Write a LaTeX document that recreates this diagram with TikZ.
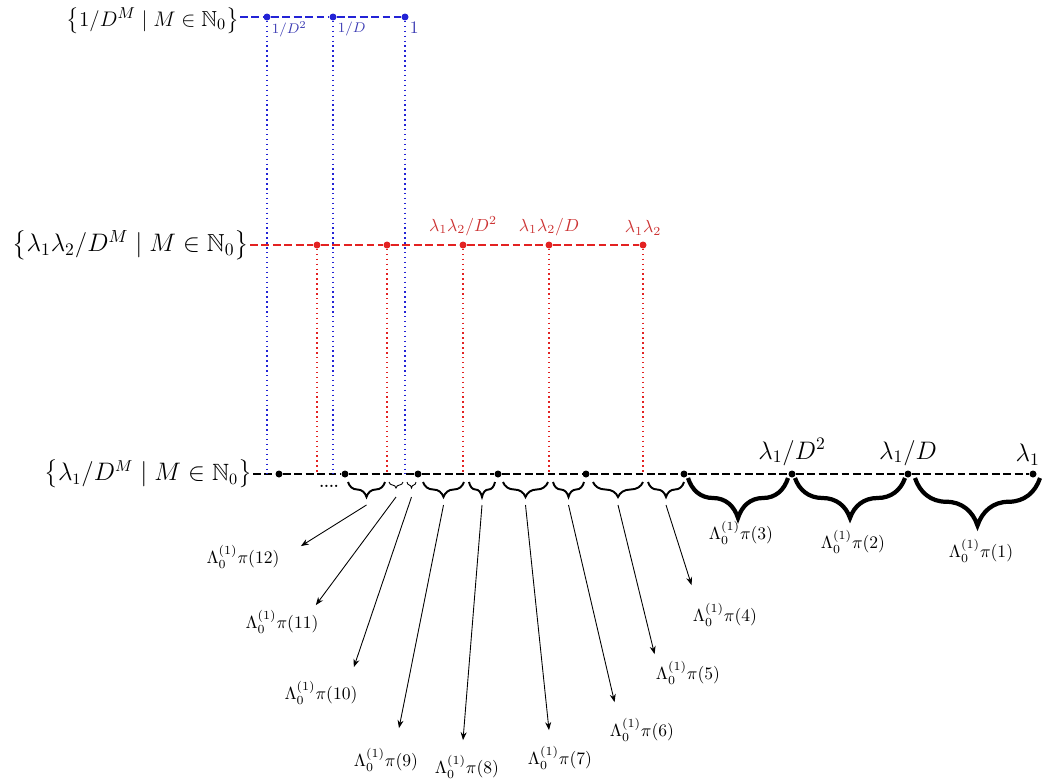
\documentclass[tikz,border=0pt]{standalone}
\usepackage{amsmath,amssymb}
\usepackage{xcolor}
\definecolor{cBlue}{HTML}{2323D6}
\definecolor{cRed}{HTML}{E32222}
\definecolor{cBlueTxt}{HTML}{3B3BB3}
\definecolor{cRedTxt}{HTML}{CC3333}
\usepackage{tikz}
\usetikzlibrary{positioning,arrows.meta,calc,decorations.pathreplacing}
\tikzset{
  set-label/.style={anchor=east,inner sep=0.5pt,font=\fontsize{#1}{17}\selectfont},
  pt-black/.style={circle,fill=black,inner sep=0pt,minimum size=1.4mm},
  pt-red/.style={pt-black,fill=cRed},
  pt-blue/.style={pt-black,fill=cBlue},
  axis-black/.style={line width=1pt,dash pattern=on 4.5pt off 2pt},
  axis-red/.style={axis-black,draw=cRed},
  axis-blue/.style={axis-black,draw=cBlue},
  drop-red/.style={line width=0.8pt,dotted,draw=cRed},
  drop-blue/.style={line width=0.8pt,dotted,draw=cBlue},
  lbl-red/.style={text=cRedTxt,inner sep=1pt},
  lbl-blue/.style={text=cBlueTxt,inner sep=1pt,font=\footnotesize},
  lbl-black/.style={inner sep=1.5pt,font=\fontsize{14.5}{17}\selectfont},
  piece/.style={inner sep=2pt},
  brace-big/.style={decorate,decoration={brace,mirror,amplitude=#1},line width=2.4pt},
  brace-mid/.style={decorate,decoration={brace,mirror,amplitude=0.3cm},line width=1.1pt},
  brace-small/.style={decorate,decoration={brace,mirror,amplitude=0.12cm},line width=0.5pt},
  arrow/.style={-{Stealth[length=1.6mm,width=1.2mm]},line width=0.5pt},
}
\begin{document}
\begin{tikzpicture}[x=0.02cm,y=-0.02cm]
  \useasboundingbox (0,0) rectangle (1043,781);
  % the three sets
  \node[set-label=12.4] (sB) at (240,21)  {$\big\{1/D^M \mid M\in\mathbb{N}_0\big\}$};
  \node[set-label=14]   (sR) at (250,245) {$\big\{\lambda_1\lambda_2/D^M \mid M\in\mathbb{N}_0\big\}$};
  \node[set-label=13.4] (sK) at (253,474) {$\big\{\lambda_1/D^M \mid M\in\mathbb{N}_0\big\}$};

  \node[pt-blue] (n2) at (267,17) {};
  \node[pt-blue] (n1) at (333,17) {};
  \node[pt-blue] (n0) at (405,17) {};

  \node[pt-red] (m4) at (317,245) {};
  \node[pt-red] (m3) at (387,245) {};
  \node[pt-red] (m2) at (463,245) {};
  \node[pt-red] (m1) at (549,245) {};
  \node[pt-red] (m0) at (643,245) {};

  \node[pt-black] (l8) at (279,474) {};
  \node[pt-black] (l7) at (345,474) {};
  \node[pt-black] (l6) at (418,474) {};
  \node[pt-black] (l5) at (498,474) {};
  \node[pt-black] (l4) at (586,474) {};
  \node[pt-black] (l3) at (684,474) {};
  \node[pt-black] (l2) at (792,474) {};
  \node[pt-black] (l1) at (908,474) {};
  \node[pt-black] (l0) at (1033,474) {};

  \foreach \p in {n0,n1,n2,m0,m1,m2,m3,m4}
    \coordinate (\p f) at (\p |- l0);

  \draw[axis-blue]  (sB.east |- n2) -- (n2) -- (n1) -- (n0);
  \draw[axis-red]   (sR) -- (m4) -- (m3) -- (m2) -- (m1) -- (m0);
  \draw[axis-black] (sK) -- (l8) -- (l7) -- (l6) -- (l5) -- (l4) -- (l3) -- (l2) -- (l1) -- (l0);

  \draw[drop-blue] (n2) -- (n2f);
  \draw[drop-blue] (n1) -- (n1f);
  \draw[drop-blue] (n0) -- (n0f);
  \draw[drop-red] (m4) -- (m4f);
  \draw[drop-red] (m3) -- (m3f);
  \draw[drop-red] (m2) -- (m2f);
  \draw[drop-red] (m1) -- (m1f);
  \draw[drop-red] (m0) -- (m0f);

  % point labels
  \node[lbl-blue,below right=0pt and 0pt of n2] (bn2) {$1/D^2$};
  \node[lbl-blue,below right=0pt and 0pt of n1] (bn1) {$1/D$};
  \node[lbl-blue,font=\normalsize,below right=0pt and 0pt of n0] (bn0) {$1$};
  \node[lbl-red,above=2pt of m2] (rm2) {$\lambda_1\lambda_2/D^2$};
  \node[lbl-red,above=2pt of m1] (rm1) {$\lambda_1\lambda_2/D$};
  \node[lbl-red,above=2pt of m0] (rm0) {$\lambda_1\lambda_2$};
  \node[lbl-black,above=1pt of l2] (kl2) {$\lambda_1/D^2$};
  \node[lbl-black,above=1pt of l1] (kl1) {$\lambda_1/D$};
  \node[lbl-black,above=1pt of l0,xshift=-3pt] (kl0) {$\lambda_1$};
  \node[font=\footnotesize\bfseries,inner sep=0pt] (gap) at (329,486) {....};

  % pieces
  \draw[brace-big=0.95cm] ($(l1)+(7,4)$) -- ($(l0)+(7,4)$);
  \draw[brace-big=0.8cm]  ($(l2)+(3,4)$) -- ($(l1)+(-3,4)$);
  \draw[brace-big=0.8cm]  ($(l3)+(4,4)$) -- ($(l2)+(-4,4)$);
  \draw[brace-mid]   ($(m0f)+(5,8)$) -- ($(l3)+(0,8)$)   coordinate[midway,yshift=-4.6mm] (t4);
  \draw[brace-mid]   ($(l4)+(7,8)$)  -- ($(m0f)+(0,8)$)  coordinate[midway,yshift=-4.6mm] (t5);
  \draw[brace-mid]   ($(m1f)+(4,8)$) -- ($(l4)+(-2,8)$)  coordinate[midway,yshift=-4.6mm] (t6);
  \draw[brace-mid]   ($(l5)+(5,8)$)  -- ($(m1f)+(-1,8)$) coordinate[midway,yshift=-4.6mm] (t7);
  \draw[brace-mid]   ($(m2f)+(6,8)$) -- ($(l5)+(-3,8)$)  coordinate[midway,yshift=-4.6mm] (t8);
  \draw[brace-mid]   ($(l6)+(5,8)$)  -- ($(m2f)+(1,8)$)  coordinate[midway,yshift=-4.6mm] (t9);
  \draw[brace-small] ($(n0f)+(2,8)$) -- ($(l6)+(-2,8)$)  coordinate[midway,yshift=-3mm] (t10);
  \draw[brace-small] ($(m3f)+(2,8)$) -- ($(n0f)+(-2,8)$) coordinate[midway,yshift=-3mm] (t11);
  \draw[brace-mid]   ($(l7)+(3,8)$)  -- ($(m3f)+(-2,8)$) coordinate[midway,yshift=-4.6mm] (t12);

  \node[piece] (pi1)  at (981,551) {$\Lambda_0^{(1)}\pi(1)$};
  \node[piece] (pi2)  at (853,542) {$\Lambda_0^{(1)}\pi(2)$};
  \node[piece] (pi3)  at (741,533) {$\Lambda_0^{(1)}\pi(3)$};
  \node[piece] (pi4)  at (725,615) {$\Lambda_0^{(1)}\pi(4)$};
  \node[piece] (pi5)  at (688,673) {$\Lambda_0^{(1)}\pi(5)$};
  \node[piece] (pi6)  at (642,730) {$\Lambda_0^{(1)}\pi(6)$};
  \node[piece] (pi7)  at (560,758) {$\Lambda_0^{(1)}\pi(7)$};
  \node[piece] (pi8)  at (467,767) {$\Lambda_0^{(1)}\pi(8)$};
  \node[piece] (pi9)  at (386,760) {$\Lambda_0^{(1)}\pi(9)$};
  \node[piece] (pi10) at (321,693) {$\Lambda_0^{(1)}\pi(10)$};
  \node[piece] (pi11) at (282,622) {$\Lambda_0^{(1)}\pi(11)$};
  \node[piece] (pi12) at (243,557) {$\Lambda_0^{(1)}\pi(12)$};

  \draw[arrow] (t4)  -- ($(pi4.north west)+(2.5,-14.5)$);
  \draw[arrow] (t5)  -- ($(pi5.north west)+(2.5,-3.5)$);
  \draw[arrow] (t6)  -- ($(pi6.north west)+(8.5,-12.5)$);
  \draw[arrow] (t7)  -- ($(pi7.north)+(-11,-12.5)$);
  \draw[arrow] (t8)  -- ($(pi8.north)+(-4,-11.5)$);
  \draw[arrow] (t9)  -- ($(pi9.north)+(13,-16.5)$);
  \draw[arrow] (t10) -- ($(pi10.north east)+(-7.5,-10.5)$);
  \draw[arrow] (t11) -- ($(pi11.north east)+(-6.5,-1.5)$);
  \draw[arrow] (t12) -- ($(pi12.north east)+(17.5,4.5)$);
\end{tikzpicture}
\end{document}
